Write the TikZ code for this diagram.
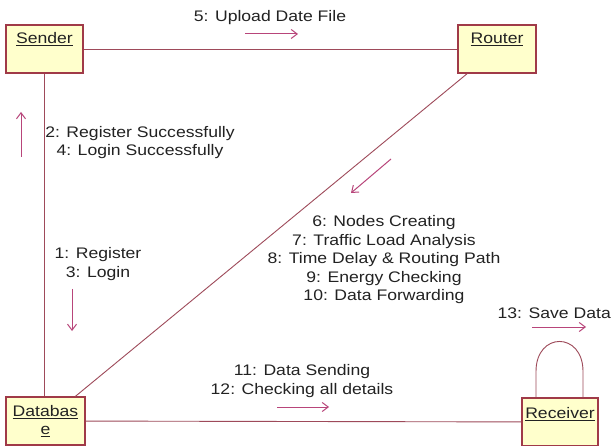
\documentclass[tikz,border=0pt]{standalone}
\usepackage{fontspec}
\setmainfont[FakeStretch=1.15]{Liberation Sans}
\usetikzlibrary{arrows.meta,calc}
\definecolor{linkcol}{HTML}{9E4A5A}
\definecolor{boxline}{HTML}{A03A48}
\definecolor{boxfill}{HTML}{FFFFCC}
\definecolor{msgcol}{HTML}{B8457A}
\definecolor{txtcol}{HTML}{222222}
\begin{document}
\begin{tikzpicture}[x=1pt,y=-1pt,
  obj/.style={draw=boxline,fill=boxfill,line width=1.1pt,rectangle,inner sep=0pt},
  objname/.style={text=txtcol,inner sep=0pt,font=\fontsize{15.3}{17}\selectfont},
  link/.style={draw=linkcol,line width=0.9pt},
  msg/.style={draw=msgcol,line width=1pt,-{Straight Barb[length=6pt,width=9pt]}},
  lbl/.style={text=txtcol,inner sep=0pt,align=center,font=\fontsize{15.3}{18.5}\selectfont}]
\useasboundingbox[fill=white] (0,0) rectangle (613,446);

% objects
\node[obj,minimum width=77pt,minimum height=48pt] (sender) at (44.5,49) {};
\node[obj,minimum width=78pt,minimum height=48pt] (router) at (497,49) {};
\node[obj,minimum width=79pt,minimum height=48pt] (database) at (45.5,421) {};
\node[obj,minimum width=76pt,minimum height=48pt] (receiver) at (560,422) {};

\node[objname] (senderName) at ($(sender.north)+(0,15)$) {\underline{Sender}};
\node[objname] (routerName) at ($(router.north)+(0,15)$) {\underline{Router}};
\node[objname] (dbName1) at ($(database.north)+(0,16)$) {\underline{Databas}};
\node[objname] (dbName2) at ($(database.north)+(0,35)$) {\underline{e}};
\node[objname] (receiverName) at ($(receiver.north)+(0,17)$) {\underline{Receiver}};

% links
\draw[link] (sender) -- (router);
\draw[link] (sender.south) -- (sender.south |- database.north);
\draw[link] (router) -- (database);
\draw[link] (database) -- (receiver);
\coordinate (loopL) at ($(receiver.north)+(-24,0)$);
\coordinate (loopR) at ($(receiver.north)+(23,0)$);
\draw[link] (loopL) -- ++(0,-26) .. controls ++(0,-40) and ($(loopR)+(0,-66)$) .. ($(loopR)+(0,-26)$) -- (loopR);

% messages
\node[lbl] (m5) at (270,18) {5: Upload Date File};
\coordinate (a5s) at (245,34); \coordinate (a5e) at (298,34);
\draw[msg] (a5s) -- (a5e);

\node[lbl] (m24) at (140,142.5) {2: Register Successfully\\4: Login Successfully};
\coordinate (a2s) at (21,157); \coordinate (a2e) at (21,112);
\draw[msg] (a2s) -- (a2e);

\node[lbl] (m13) at (98,264) {1: Register\\3: Login};
\coordinate (a1s) at (72,289); \coordinate (a1e) at (72,331);
\draw[msg] (a1s) -- (a1e);

\node[lbl] (m610) at (384,260) {6: Nodes Creating\\7: Traffic Load Analysis\\8: Time Delay \& Routing Path\\9: Energy Checking\\10: Data Forwarding};
\coordinate (a6s) at (391,159); \coordinate (a6e) at (351,193);
\draw[msg] (a6s) -- (a6e);

\node[lbl] (m1112) at (302,381) {11: Data Sending\\12: Checking all details};
\coordinate (a11s) at (277,407); \coordinate (a11e) at (329,407);
\draw[msg] (a11s) -- (a11e);

\node[lbl,anchor=east] (m13s) at (611,313) {13: Save Data};
\coordinate (a13s) at (532,327); \coordinate (a13e) at (586,327);
\draw[msg] (a13s) -- (a13e);
\end{tikzpicture}
\end{document}
